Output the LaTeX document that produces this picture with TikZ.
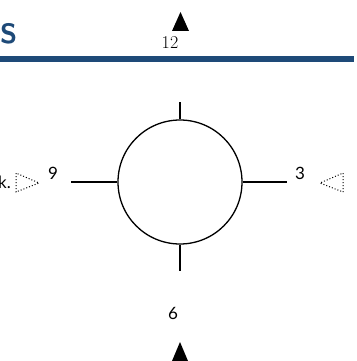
\documentclass[tikz,border=0pt]{standalone}
\usepackage{fontspec}
\newfontfamily\labfont{Lato}
\definecolor{hdrblue}{HTML}{1E4A78}
\begin{document}
\begin{tikzpicture}[x=1pt,y=-1pt,
  tick/.style={line width=1.3pt},
  numlab/.style={font=\labfont\fontsize{17}{19}\selectfont, inner sep=0pt},
  solidtri/.style={fill=black},
  dottri/.style={draw, dotted, line width=1pt}]
\useasboundingbox (0,0) rectangle (356,361);
% header
\node[anchor=west, inner sep=0pt, text=hdrblue, font=\sffamily\bfseries\fontsize{28}{30}\selectfont] (title) at (0,34) {S};
\draw[hdrblue, line width=5pt] (0,59) coordinate (hl) -- (354,59) coordinate (hr);
% circle and ticks
\node[draw, circle, line width=1.3pt, minimum size=124pt, inner sep=0pt] (c) at (180,182) {};
\coordinate (tn) at (180,102);
\coordinate (ts) at (180,271);
\coordinate (tw) at (71,182);
\coordinate (te) at (287,182);
\draw[tick] (c.north) -- (tn);
\draw[tick] (c.south) -- (ts);
\draw[tick] (c.west) -- (tw);
\draw[tick] (c.east) -- (te);
% labels
\node[font=\fontsize{18}{20}\selectfont, inner sep=0pt] (l12) at (170,43) {12};
\node[numlab] (l9) at (53,173) {9};
\node[numlab] (l3) at (300,173) {3};
\node[numlab] (l6) at (173,313) {6};
\node[numlab, anchor=west] (lk) at (-2,182) {k.};
% solid triangles
\fill[solidtri] (172,31) -- (189,31) -- (180.5,12) -- cycle;
\fill[solidtri] (172,361) -- (188,361) -- (180,342) -- cycle;
% dotted triangles
\draw[dottri] (16,173) -- (16,192) -- (39,183) -- cycle;
\draw[dottri] (343,173) -- (343,192) -- (320,183) -- cycle;
\end{tikzpicture}
\end{document}
